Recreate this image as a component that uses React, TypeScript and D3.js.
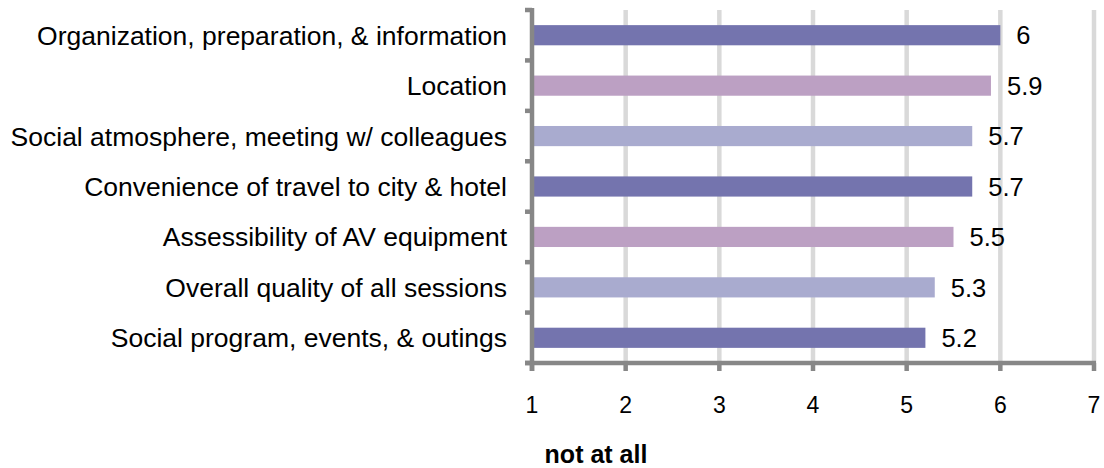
import { useEffect, useRef } from "react";
import * as d3 from "d3";

const categories = [
  "Organization, preparation, & information",
  "Location",
  "Social atmosphere, meeting w/ colleagues",
  "Convenience of travel to city & hotel",
  "Assessibility of AV equipment",
  "Overall quality of all sessions",
  "Social program, events, & outings",
];
const values = [6, 5.9, 5.7, 5.7, 5.5, 5.3, 5.2];
const barColors = ["#7474ae", "#bca0c3", "#a9abcf"];
const xTicks = [1, 2, 3, 4, 5, 6, 7];
const axisTitle = "not at all";

const App = () => {
  const svgRef = useRef<SVGSVGElement | null>(null);

  useEffect(() => {
    if (!svgRef.current) return;
    const svg = d3.select(svgRef.current);
    svg.selectAll("*").remove();

    const left = 532;
    const right = 1094;
    const top = 10;
    const bottom = 363;
    const font = "'Liberation Sans', Arial, sans-serif";

    const x = d3.scaleLinear().domain([1, 7]).range([left, right]);
    const y = d3
      .scaleBand<string>()
      .domain(categories)
      .range([top, bottom])
      .paddingInner(0.6)
      .paddingOuter(0.3);

    // grid
    svg
      .append("g")
      .selectAll("line")
      .data(xTicks.slice(1))
      .join("line")
      .attr("x1", (d) => x(d))
      .attr("x2", (d) => x(d))
      .attr("y1", top)
      .attr("y2", bottom)
      .attr("stroke", "#d9d9d9")
      .attr("stroke-width", 4.5);

    // bars
    svg
      .append("g")
      .selectAll("rect")
      .data(values)
      .join("rect")
      .attr("x", x(1))
      .attr("y", (_, i) => y(categories[i]) as number)
      .attr("width", (d) => x(d) - x(1))
      .attr("height", y.bandwidth())
      .attr("fill", (_, i) => barColors[i % 3]);

    // value labels
    svg
      .append("g")
      .selectAll("text")
      .data(values)
      .join("text")
      .attr("x", (d) => x(d) + 16)
      .attr("y", (_, i) => (y(categories[i]) as number) + y.bandwidth() / 2)
      .attr("dy", "0.36em")
      .attr("font-family", font)
      .attr("font-size", 25.5)
      .attr("fill", "#000")
      .text((d) => String(d));

    // category labels
    svg
      .append("g")
      .selectAll("text")
      .data(categories)
      .join("text")
      .attr("x", left - 25)
      .attr("y", (d) => (y(d) as number) + y.bandwidth() / 2)
      .attr("dy", "0.36em")
      .attr("text-anchor", "end")
      .attr("font-family", font)
      .attr("font-size", 26.5)
      .attr("fill", "#000")
      .text((d) => d);

    const axisColor = "#878787";
    const sw = 4.5;

    // left axis + ticks between categories
    const step = (bottom - top) / categories.length;
    const g = svg.append("g");
    g.append("line")
      .attr("x1", left)
      .attr("x2", left)
      .attr("y1", top - 2)
      .attr("y2", bottom + 8)
      .attr("stroke", axisColor)
      .attr("stroke-width", sw);
    g.selectAll("line.yt")
      .data(d3.range(categories.length + 1))
      .join("line")
      .attr("class", "yt")
      .attr("x1", left - 7)
      .attr("x2", left)
      .attr("y1", (i) => top + i * step)
      .attr("y2", (i) => top + i * step)
      .attr("stroke", axisColor)
      .attr("stroke-width", sw);

    // bottom axis
    g.append("line")
      .attr("x1", left - 7)
      .attr("x2", right + 2)
      .attr("y1", bottom)
      .attr("y2", bottom)
      .attr("stroke", axisColor)
      .attr("stroke-width", sw);
    g.selectAll("line.xt")
      .data(xTicks)
      .join("line")
      .attr("class", "xt")
      .attr("x1", (d) => x(d))
      .attr("x2", (d) => x(d))
      .attr("y1", bottom)
      .attr("y2", bottom + 8)
      .attr("stroke", axisColor)
      .attr("stroke-width", sw);

    // tick labels
    svg
      .append("g")
      .selectAll("text")
      .data(xTicks)
      .join("text")
      .attr("x", (d) => x(d))
      .attr("y", 405)
      .attr("dy", "0.36em")
      .attr("text-anchor", "middle")
      .attr("font-family", font)
      .attr("font-size", 23)
      .attr("fill", "#000")
      .text((d) => String(d));

    svg
      .append("text")
      .attr("x", 596)
      .attr("y", 463)
      .attr("text-anchor", "middle")
      .attr("font-family", font)
      .attr("font-weight", "bold")
      .attr("font-size", 25)
      .attr("fill", "#000")
      .text(axisTitle);
  }, []);

  return (
    <svg
      ref={svgRef}
      width={1104}
      height={468}
      style={{ position: "absolute", left: 0, top: 0, background: "#fff" }}
    ></svg>
  );
};

export default App;
